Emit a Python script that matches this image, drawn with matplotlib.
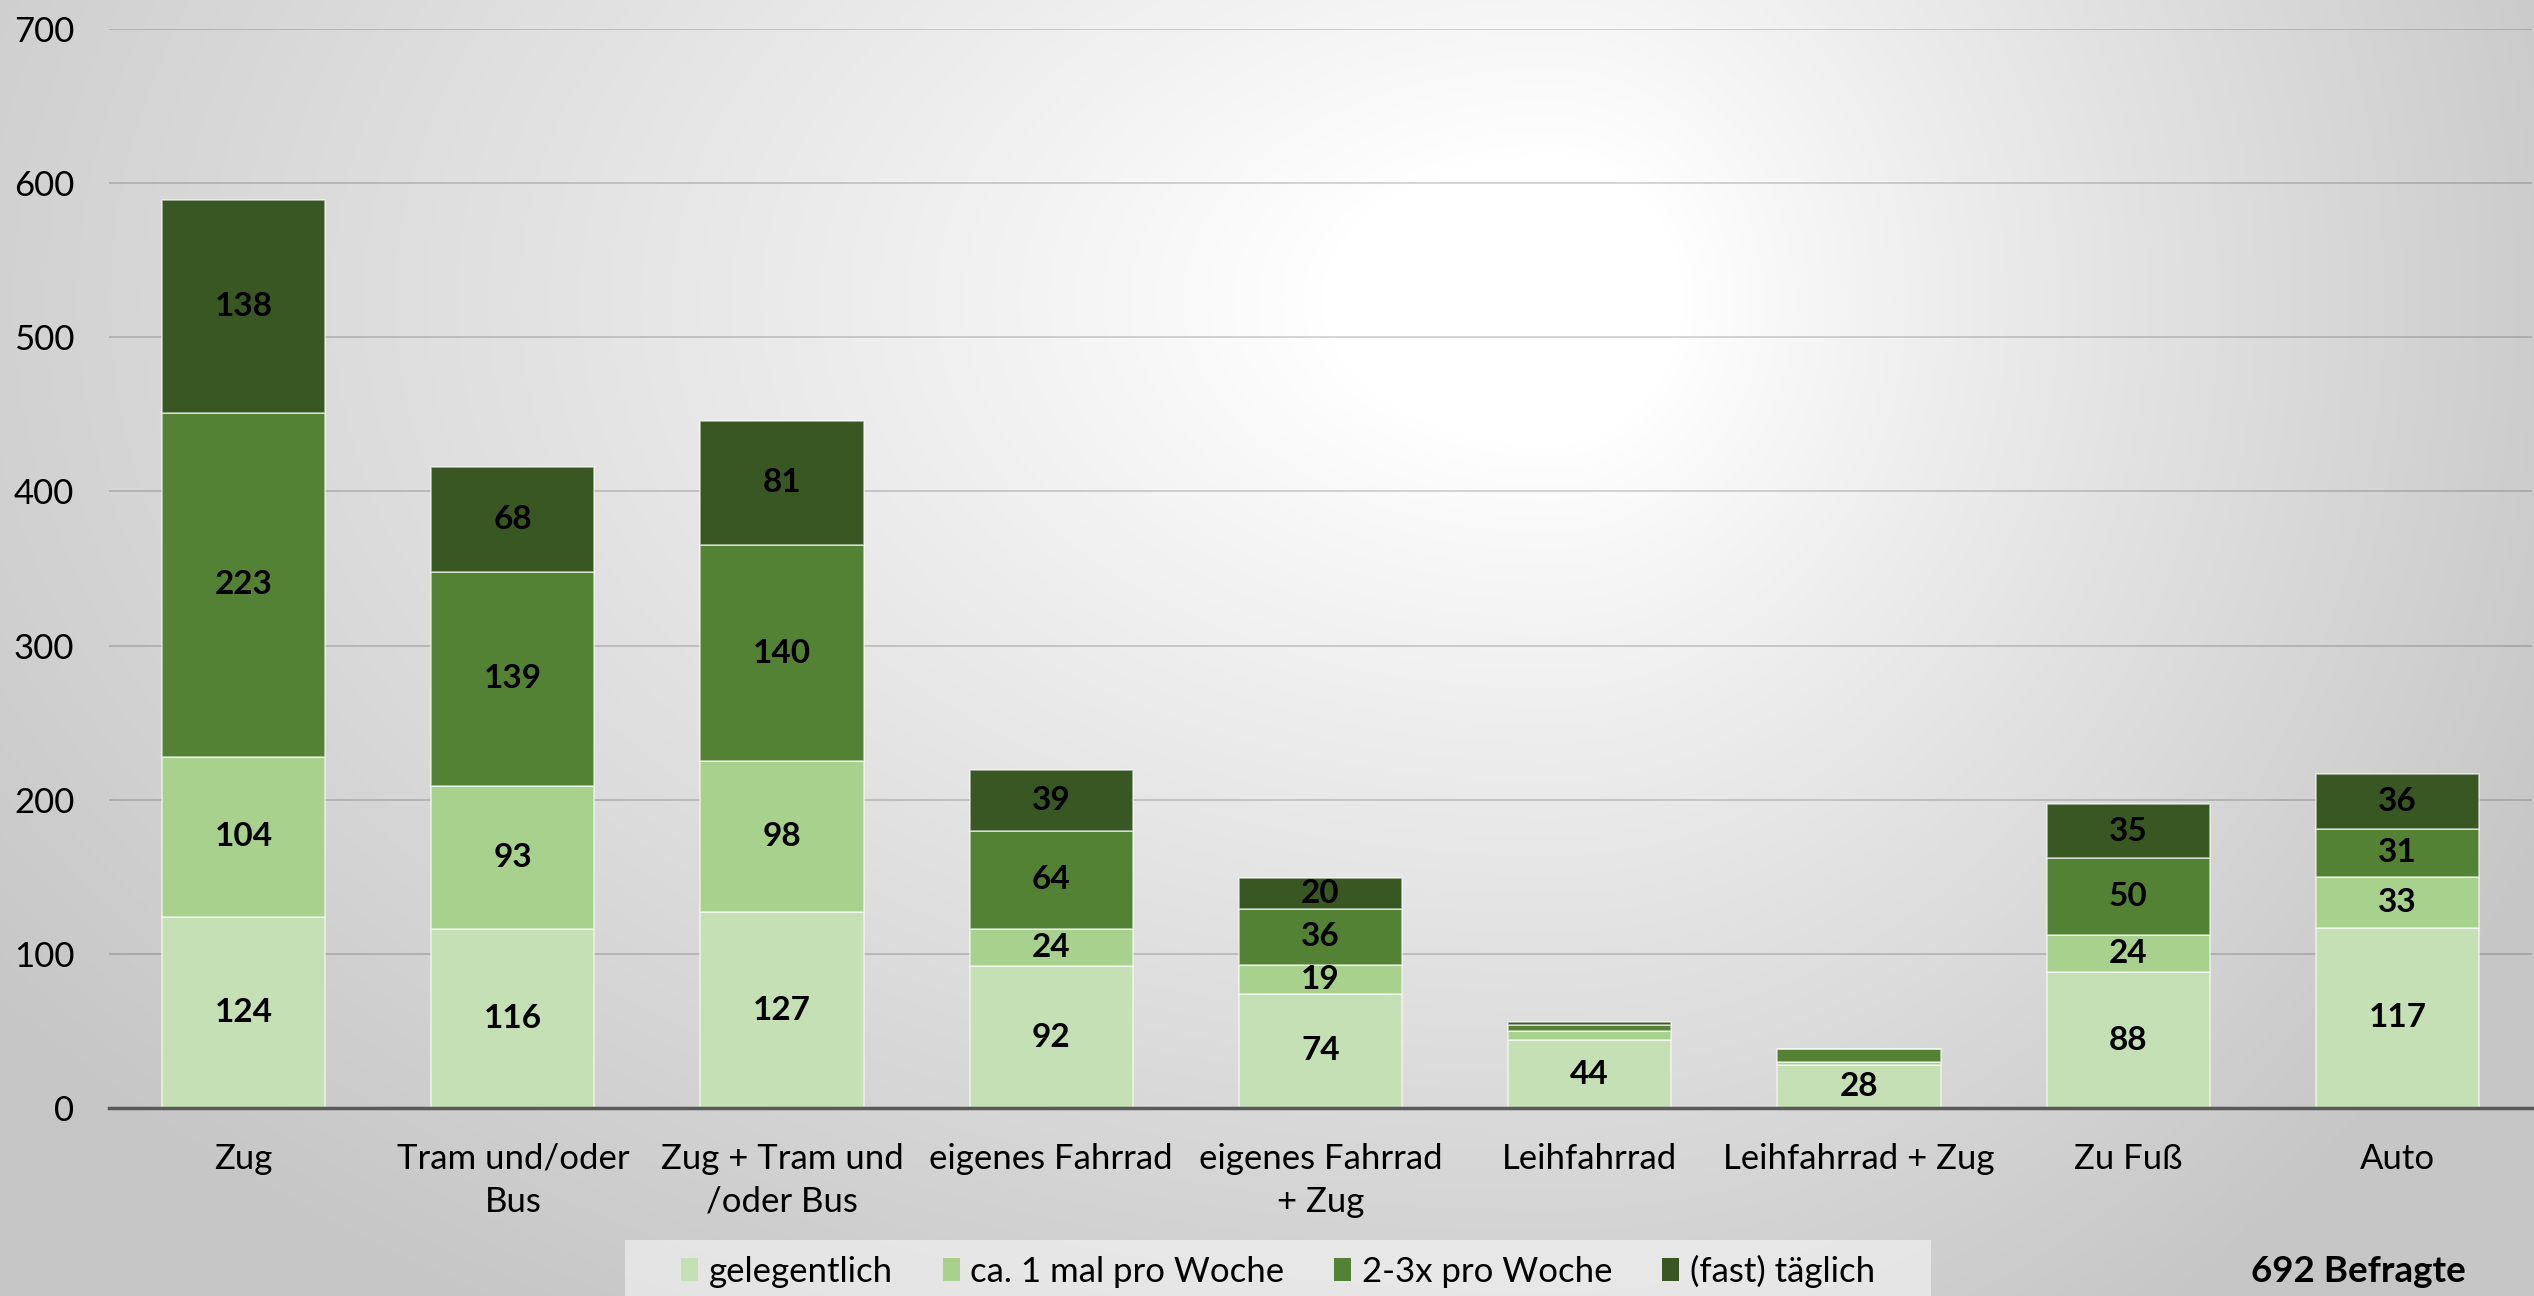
import numpy as np
import matplotlib
matplotlib.use("Agg")
import matplotlib.pyplot as plt
from matplotlib.patches import Patch, Rectangle

plt.rcParams['font.family'] = ['Lato', 'DejaVu Sans']

categories = ["Zug", "Tram und/oder\nBus", "Zug + Tram und\n/oder Bus", "eigenes Fahrrad",
              "eigenes Fahrrad\n+ Zug", "Leihfahrrad", "Leihfahrrad + Zug", "Zu Fuß", "Auto"]
series_names = ["gelegentlich", "ca. 1 mal pro Woche", "2-3x pro Woche", "(fast) täglich"]
gelegentlich = [124, 116, 127, 92, 74, 44, 28, 88, 117]
ca_1_mal = [104, 93, 98, 24, 19, 6, 2, 24, 33]
zwei_drei_x = [223, 139, 140, 64, 36, 4, 8, 50, 31]
fast_taeglich = [138, 68, 81, 39, 20, 2, 0, 35, 36]
yticks = [0, 100, 200, 300, 400, 500, 600, 700]
note = "692 Befragte"

colors = ["#C5E0B4", "#A9D18E", "#548235", "#385723"]
series = [gelegentlich, ca_1_mal, zwei_drei_x, fast_taeglich]

W, H = 2534, 1296
fig = plt.figure(figsize=(W / 100, H / 100), dpi=100)

# background gradient
bg = fig.add_axes([0, 0, 1, 1], zorder=-10)
yy, xx = np.mgrid[0:H, 0:W]
cx, cy = 1550.0, 300.0
rx = np.where(xx < cx, 1900.0, 1100.0)
ry = 1200.0
d = np.sqrt(((xx - cx) / rx) ** 2 + ((yy - cy) / ry) ** 2)
d = np.clip((d - 0.12) / 0.88, 0, 1)
g = 1.0 - (1.0 - 0.78) * d ** 0.9
img = np.dstack([g, g, g])
bg.imshow(img, aspect='auto', extent=[0, 1, 0, 1], origin='upper')
bg.set_xlim(0, 1)
bg.set_ylim(0, 1)
bg.axis('off')
# legend background box
bg.add_patch(Rectangle((625 / W, 0), (1931 - 625) / W, 1 - 1240 / H,
                       facecolor='#f6f6f6', alpha=0.6, edgecolor='none', zorder=5))

left, right = 109 / W, 2532 / W
bottom, top = 1 - 1108 / H, 1 - 29 / H
ax = fig.add_axes([left, bottom, right - left, top - bottom])
ax.set_facecolor('none')

x = np.arange(len(categories))
bw = 0.606
base = np.zeros(len(categories))
for vals, col, name in zip(series, colors, series_names):
    vals = np.array(vals, dtype=float)
    ax.bar(x, vals, bw, bottom=base, color=col, edgecolor=(1, 1, 1, 0.6),
           linewidth=1.2, label=name, zorder=3)
    for xi, v, b in zip(x, vals, base):
        if v >= 15:
            ax.text(xi, b + v / 2, f"{int(v)}", ha='center', va='center',
                    fontsize=24, fontweight='bold', color='black', zorder=4)
    base += vals

ax.set_xlim(-0.5, len(categories) - 0.5)
ax.set_ylim(0, 700)
ax.set_yticks(yticks)
ax.set_yticklabels([str(t) for t in yticks], fontsize=25)
ax.set_xticks(x)
ax.set_xticklabels(categories, fontsize=25, linespacing=1.42)
ax.tick_params(axis='y', length=0, pad=25)
ax.tick_params(axis='x', length=0, pad=25)
for s in ['top', 'right', 'left']:
    ax.spines[s].set_visible(False)
ax.spines['bottom'].set_color('#595959')
ax.spines['bottom'].set_linewidth(2.5)
ax.spines['bottom'].set_zorder(5)
ax.yaxis.grid(True, color='black', alpha=0.16, linewidth=1.4, zorder=0)
ax.set_axisbelow(True)

handles = [Patch(facecolor=c, edgecolor='none', label=n) for c, n in zip(colors, series_names)]
leg = fig.legend(handles=handles, loc='center', bbox_to_anchor=(1278 / W, 1 - 1271 / H),
                 ncol=4, fontsize=25, frameon=False, handlelength=0.48, handleheight=0.62,
                 handletextpad=0.3, columnspacing=1.45, borderpad=0.2)

fig.text(2358 / W, 1 - 1271 / H, note, ha='center', va='center', fontsize=26.5, fontweight='bold')

fig.savefig('out.png', dpi=100)
